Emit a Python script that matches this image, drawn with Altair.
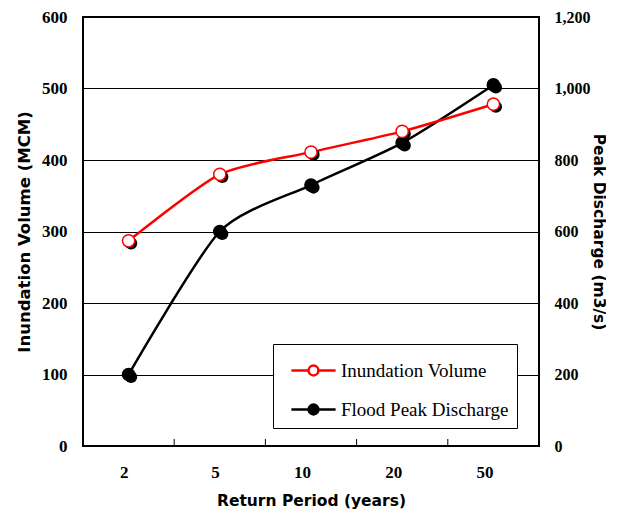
import altair as alt
import pandas as pd

periods = ["2", "5", "10", "20", "50"]
volume = [287, 380, 411, 440, 478]
discharge = [200, 600, 730, 848, 1010]
series_names = ["Inundation Volume", "Flood Peak Discharge"]
boundaries = ["5", "10", "20", "50"]

vol_df = pd.DataFrame({"rp": periods, "v": volume, "series": series_names[0]})
dis_df = pd.DataFrame({"rp": periods, "v": discharge, "series": series_names[1]})
tick_df = pd.DataFrame({"rp": boundaries})

W, H = 456, 429

xenc = alt.X("rp:N", sort=periods,
             scale=alt.Scale(type="band", paddingInner=0, paddingOuter=0),
             axis=alt.Axis(title="Return Period (years)", ticks=False, domain=False,
                           labelAngle=0, labelPadding=26, titlePadding=13,
                           labelFont="Liberation Serif", labelFontWeight="bold", labelFontSize=17,
                           titleFont="DejaVu Sans", titleFontWeight="bold", titleFontSize=15.5))

sym = "M-1.3,0H-0.29M0.29,0H1.3M0.29,0A0.29,0.29,0,1,1,-0.29,0A0.29,0.29,0,1,1,0.29,0Z"
stroke_scale = alt.Scale(domain=series_names, range=["#ff0000", "#000000"])
fill_scale = alt.Scale(domain=series_names, range=["#ffffff", "#000000"])
leg = alt.Legend(title=None, orient="none", legendX=190, legendY=327,
                 symbolType=sym, symbolSize=1156, symbolStrokeWidth=2.5, symbolOffset=14,
                 labelFont="Liberation Serif", labelFontSize=19, labelColor="black",
                 strokeColor="black", fillColor="white", padding=8, rowPadding=10,
                 labelOffset=9, labelLimit=300)

yL = alt.Y("v:Q", scale=alt.Scale(domain=[0, 600]),
           axis=alt.Axis(title="Inundation Volume (MCM)", orient="left", values=[0,100,200,300,400,500,600],
                         grid=True, gridColor="black", gridWidth=1, ticks=False, domain=False,
                         labelPadding=16, titlePadding=9,
                         labelFont="Liberation Serif", labelFontWeight="bold", labelFontSize=17, labelColor="black",
                         titleFont="DejaVu Sans", titleFontWeight="bold", titleFontSize=16.5, titleColor="black"))
yR = alt.Y("v:Q", scale=alt.Scale(domain=[0, 1200]),
           axis=alt.Axis(title="Peak Discharge (m3/s)", orient="right", values=[0,200,400,600,800,1000,1200],
                         format=",d", grid=False, ticks=False, domain=False,
                         labelPadding=15, titlePadding=0,
                         labelFont="Liberation Serif", labelFontWeight="bold", labelFontSize=16, labelColor="black",
                         titleFont="DejaVu Sans", titleFontWeight="bold", titleFontSize=15.5, titleColor="black"))

def series_layers(df, y):
    base = alt.Chart(df).encode(x=xenc, y=y)
    line = base.mark_line(interpolate="cardinal", tension=0.3, strokeWidth=2.5).encode(
        stroke=alt.Stroke("series:N", scale=stroke_scale, legend=leg))
    shadow = base.mark_point(filled=True, size=150, opacity=1, xOffset=2.5, yOffset=2.5,
                             color="black")
    pts = base.mark_point(size=150, opacity=1, strokeWidth=1.5).encode(
        stroke=alt.Stroke("series:N", scale=stroke_scale, legend=leg),
        fill=alt.Fill("series:N", scale=fill_scale, legend=leg))
    return alt.layer(line, shadow, pts)

ticks = alt.Chart(tick_df).mark_rule(color="black", strokeWidth=1).encode(
    x=alt.X("rp:N", sort=periods, bandPosition=0), y=alt.value(H - 7), y2=alt.value(H))

dis_layer = alt.layer(ticks, series_layers(dis_df, yR))
vol_layer = series_layers(vol_df, yL)

chart = alt.layer(dis_layer, vol_layer).resolve_scale(y="independent").properties(
    width=W, height=H, padding={"left": 8, "top": 0, "right": 1, "bottom": 0}
).configure_view(stroke="black", strokeWidth=2).configure_axis(labelColor="black", titleColor="black")

chart.save("out.html", embed_options={"renderer": "svg", "actions": False})
